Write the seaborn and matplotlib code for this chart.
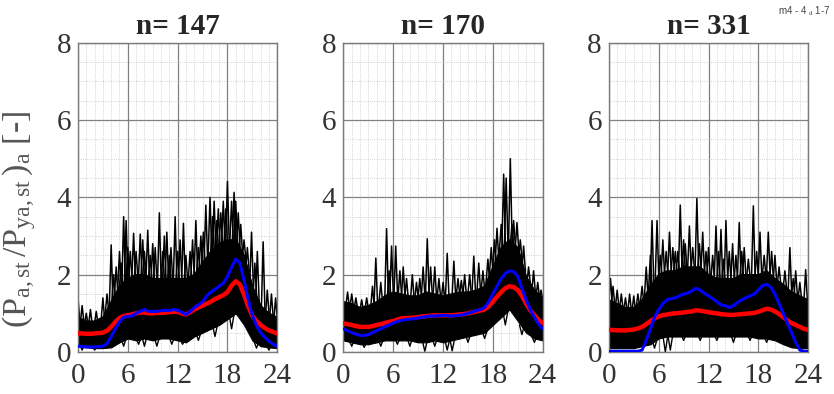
import numpy as np
import pandas as pd
import seaborn as sns
import matplotlib.pyplot as plt
from matplotlib.ticker import MultipleLocator

# hourly grid for the envelope of the daily profiles, half-hourly for the mean curves
hours = list(range(25))
half_hours = [h / 2 for h in range(49)]

titles = ["n= 147", "n= 170", "n= 331"]

# dense band of the black daily profiles (lower / upper edge, hourly)
band_low = [
    [0.15, 0.12, 0.1, 0.1, 0.12, 0.25, 0.35, 0.3, 0.35, 0.3, 0.35, 0.35, 0.3,
     0.25, 0.4, 0.5, 0.6, 0.7, 0.85, 1.0, 0.7, 0.3, 0.15, 0.12, 0.1],
    [0.3, 0.25, 0.2, 0.2, 0.25, 0.3, 0.3, 0.3, 0.3, 0.25, 0.25, 0.3, 0.25,
     0.3, 0.35, 0.4, 0.45, 0.5, 0.7, 0.9, 1.1, 0.8, 0.5, 0.35, 0.3],
    [0.1, 0.1, 0.1, 0.1, 0.15, 0.2, 0.35, 0.4, 0.4, 0.4, 0.4, 0.4, 0.4,
     0.4, 0.4, 0.4, 0.4, 0.4, 0.35, 0.35, 0.3, 0.2, 0.12, 0.1, 0.1],
]
band_high = [
    [0.9, 0.8, 0.8, 0.9, 1.3, 1.7, 1.9, 2.0, 2.0, 1.9, 1.9, 1.9, 1.9,
     1.9, 2.0, 2.3, 2.6, 2.8, 2.9, 2.9, 2.5, 1.7, 1.2, 1.0, 0.9],
    [1.3, 1.25, 1.15, 1.2, 1.3, 1.45, 1.55, 1.5, 1.45, 1.45, 1.55, 1.5, 1.45,
     1.5, 1.55, 1.55, 1.6, 1.7, 2.2, 2.7, 2.9, 2.7, 1.95, 1.6, 1.4],
    [1.35, 1.25, 1.15, 1.15, 1.35, 1.7, 2.0, 2.1, 2.1, 2.2, 2.2, 2.2, 2.0,
     1.9, 1.9, 1.9, 2.0, 2.0, 2.0, 2.1, 1.9, 1.75, 1.55, 1.45, 1.35],
]

# single profiles sticking out of the band: (hour, peak value)
spike_hour = [
    [0.0, 0.5, 1.0, 1.5, 2.2, 3.0, 3.5, 4.0, 4.3, 4.6, 5.0, 5.2, 5.5, 5.8, 6.0,
     6.3, 6.7, 7.0, 7.5, 7.8, 8.0, 8.4, 8.7, 9.0, 9.3, 9.8, 10.2, 10.4, 10.7,
     11.0, 11.2, 11.7, 12.0, 12.3, 12.7, 13.0, 13.5, 13.8, 14.2, 14.5, 14.8,
     15.1, 15.4, 15.9, 16.2, 16.4, 16.7, 16.9, 17.2, 17.5, 17.8, 18.0, 18.5,
     18.8, 19.0, 19.3, 19.6, 20.0, 20.4, 20.9, 21.3, 21.6, 22.3, 22.8, 23.3, 23.8],
    [0.5, 1.0, 1.5, 2.2, 2.8, 3.5, 3.9, 4.5, 5.2, 5.5, 5.8, 6.3, 6.8, 7.2, 7.6,
     8.3, 8.8, 9.2, 9.6, 10.1, 10.5, 11.0, 11.5, 12.0, 12.5, 13.3, 13.8, 14.2,
     14.6, 15.2, 15.7, 16.3, 16.8, 17.4, 17.8, 18.2, 18.5, 19.0, 19.3, 19.6,
     20.1, 20.3, 20.5, 20.9, 21.3, 21.7, 22.3, 22.9, 23.4, 23.8],
    [0.2, 0.5, 1.0, 1.5, 2.0, 2.5, 3.0, 3.5, 4.0, 4.5, 5.0, 5.2, 5.8, 6.2, 6.5,
     6.9, 7.3, 7.7, 8.0, 8.3, 8.6, 9.0, 9.2, 9.7, 10.1, 10.6, 10.9, 11.3, 11.7,
     12.0, 12.5, 12.9, 13.2, 13.5, 13.8, 14.1, 14.5, 14.9, 15.3, 15.7, 16.0,
     16.3, 16.8, 17.4, 17.8, 18.2, 18.7, 19.2, 19.6, 20.0, 20.5, 21.2, 21.8,
     22.2, 22.5, 23.0, 23.7],
]
spike_peak = [
    [1.4, 1.2, 1.0, 1.1, 1.05, 1.4, 1.5, 2.77, 2.0, 2.2, 2.6, 2.3, 3.5, 3.4, 2.7,
     2.6, 3.07, 2.6, 3.05, 2.9, 2.6, 3.15, 2.5, 2.8, 2.7, 3.6, 2.6, 3.0, 3.1,
     2.5, 2.7, 3.5, 2.6, 2.9, 3.33, 2.5, 2.6, 2.9, 3.4, 2.7, 3.0,
     3.1, 3.8, 4.0, 3.5, 3.9, 3.4, 3.7, 3.6, 3.9, 3.7, 4.41, 3.9,
     4.13, 3.9, 3.6, 3.3, 2.9, 2.7, 3.1, 2.3, 2.6, 2.85, 1.6, 1.5, 1.4],
    [1.55, 1.5, 1.4, 1.35, 1.4, 1.7, 2.43, 1.8, 3.19, 2.1, 2.74, 2.74, 2.1, 2.2, 1.9,
     2.0, 1.8, 1.9, 2.2, 2.93, 2.2, 2.2, 1.9, 1.8, 2.55, 2.35, 1.9, 1.85,
     2.0, 2.0, 2.48, 2.3, 2.1, 2.4, 2.7, 2.9, 3.2, 3.3, 4.6, 4.5,
     5.0, 3.3, 3.4, 3.35, 2.9, 2.74, 2.2, 2.1, 1.8, 1.6],
    [1.9, 1.7, 1.6, 1.5, 1.4, 1.5, 1.45, 1.5, 1.7, 2.2, 2.5, 3.4, 3.4, 2.5, 2.9,
     2.6, 3.1, 2.7, 2.6, 2.6, 3.8, 2.9, 2.8, 3.26, 2.7, 3.97, 2.8, 3.1, 2.6,
     2.7, 2.5, 3.26, 2.6, 3.17, 2.4, 3.4, 2.6, 2.8, 2.5, 3.35, 2.6,
     2.7, 2.4, 3.78, 2.6, 3.1, 2.5, 3.1, 2.6, 2.5, 2.2, 2.1, 2.7,
     1.9, 2.1, 1.8, 2.13],
]
# profiles dropping below the band: (hour, lowest value)
dip_hour = [
    [0.5, 2.0, 5.5, 7.3, 8.0, 9.5, 11.3, 12.6, 14.5, 16.5, 18.5, 21.5, 23.0],
    [1.0, 2.5, 4.5, 6.5, 8.0, 9.8, 11.0, 12.5, 13.1, 15.0, 17.0, 19.5, 21.5, 23.0],
    [5.5, 6.8, 7.4, 9.0, 11.0, 13.0, 15.0, 17.0, 19.0],
]
dip_low = [
    [0.05, 0.05, 0.15, 0.2, 0.15, 0.15, 0.2, 0.2, 0.3, 0.4, 0.6, 0.1, 0.05],
    [0.15, 0.12, 0.15, 0.2, 0.15, 0.02, 0.15, 0.05, 0.03, 0.25, 0.35, 0.7, 0.45, 0.25],
    [0.1, 0.0, 0.05, 0.3, 0.3, 0.3, 0.25, 0.3, 0.25],
]

# red: mean profile, blue: reference profile (half-hourly)
red = [
    [0.48, 0.48, 0.47, 0.47, 0.48, 0.49, 0.5, 0.55, 0.65, 0.78, 0.88, 0.93, 0.95,
     0.97, 1.0, 1.02, 1.02, 1.0, 1.0, 1.01, 1.01, 1.02, 1.03, 1.04, 1.04, 1.0,
     0.97, 1.03, 1.1, 1.15, 1.2, 1.25, 1.3, 1.37, 1.42, 1.47, 1.55, 1.72, 1.83,
     1.75, 1.48, 1.18, 0.93, 0.8, 0.7, 0.62, 0.56, 0.52, 0.48],
    [0.74, 0.72, 0.7, 0.67, 0.65, 0.65, 0.65, 0.67, 0.7, 0.72, 0.75, 0.78, 0.8,
     0.84, 0.87, 0.88, 0.88, 0.89, 0.9, 0.92, 0.93, 0.94, 0.95, 0.95, 0.95, 0.95,
     0.95, 0.96, 0.97, 0.98, 1.0, 1.02, 1.05, 1.07, 1.1, 1.18, 1.3, 1.43, 1.55,
     1.65, 1.7, 1.68, 1.6, 1.45, 1.25, 1.08, 0.95, 0.83, 0.75],
    [0.57, 0.57, 0.56, 0.56, 0.56, 0.57, 0.58, 0.61, 0.65, 0.72, 0.8, 0.87, 0.92,
     0.95, 0.97, 0.99, 1.0, 1.01, 1.02, 1.04, 1.05, 1.08, 1.07, 1.05, 1.03, 1.01,
     1.0, 0.98, 0.97, 0.96, 0.96, 0.97, 0.98, 0.99, 1.0, 1.01, 1.04, 1.08, 1.12,
     1.1, 1.05, 0.98, 0.9, 0.82, 0.75, 0.7, 0.65, 0.6, 0.57],
]
blue = [
    [0.15, 0.14, 0.13, 0.13, 0.13, 0.14, 0.15, 0.22, 0.4, 0.6, 0.78, 0.9, 0.92,
     0.93, 1.0, 1.05, 1.1, 1.05, 1.05, 1.05, 1.07, 1.08, 1.07, 1.1, 1.08, 1.03,
     0.97, 1.05, 1.15, 1.22, 1.3, 1.45, 1.55, 1.62, 1.7, 1.78, 1.95, 2.2, 2.4,
     2.3, 1.85, 1.35, 0.95, 0.68, 0.5, 0.38, 0.28, 0.2, 0.15],
    [0.6, 0.55, 0.5, 0.46, 0.43, 0.43, 0.45, 0.5, 0.55, 0.6, 0.65, 0.7, 0.75,
     0.79, 0.82, 0.84, 0.85, 0.86, 0.88, 0.9, 0.92, 0.93, 0.93, 0.94, 0.95, 0.94,
     0.93, 0.94, 0.95, 0.97, 1.0, 1.03, 1.07, 1.1, 1.15, 1.3, 1.5, 1.7, 1.9,
     2.03, 2.1, 2.08, 1.95, 1.65, 1.35, 1.1, 0.9, 0.72, 0.6],
    [0.02, 0.02, 0.02, 0.02, 0.02, 0.02, 0.02, 0.02, 0.05, 0.3, 0.6, 0.9, 1.1,
     1.25, 1.35, 1.38, 1.4, 1.45, 1.5, 1.52, 1.58, 1.65, 1.6, 1.52, 1.45, 1.38,
     1.3, 1.22, 1.2, 1.15, 1.2, 1.28, 1.35, 1.4, 1.45, 1.5, 1.6, 1.72, 1.75,
     1.68, 1.5, 1.25, 1.0, 0.75, 0.5, 0.25, 0.05, 0.02, 0.02],
]

sns.set_style("white")
plt.rcParams['font.family'] = ['Liberation Serif', 'DejaVu Serif']
plt.rcParams['mathtext.fontset'] = 'custom'
plt.rcParams['mathtext.rm'] = 'Liberation Serif'
plt.rcParams['mathtext.it'] = 'Liberation Serif:italic'

fig, axes = plt.subplots(1, 3, figsize=(8.34, 3.94), dpi=100)
fig.subplots_adjust(left=0.0935, right=0.969, bottom=0.1066, top=0.8916, wspace=0.332)

for i, ax in enumerate(axes):
    ax.fill_between(hours, band_low[i], band_high[i], color='black', lw=0.8, zorder=2)
    ax.plot(hours, band_high[i], color='black', lw=1.0, zorder=2)
    for h, p in zip(spike_hour[i], spike_peak[i]):
        base = np.interp(h, hours, band_high[i])
        ax.plot([h - 0.22, h, h + 0.22], [base - 0.1, p, base - 0.1], color='black', lw=1.1, zorder=2)
    for h, p in zip(dip_hour[i], dip_low[i]):
        base = np.interp(h, hours, band_low[i])
        ax.plot([h - 0.3, h, h + 0.3], [base + 0.05, p, base + 0.05], color='black', lw=1.0, zorder=2)

    sns.lineplot(x=half_hours, y=red[i], ax=ax, color='#ff0000', lw=3.2, zorder=3)
    sns.lineplot(x=half_hours, y=blue[i], ax=ax, color='#0000ff', lw=2.2, zorder=4)

    ax.set_xlim(0, 24)
    ax.set_ylim(0, 8)
    ax.xaxis.set_major_locator(MultipleLocator(6))
    ax.yaxis.set_major_locator(MultipleLocator(2))
    ax.xaxis.set_minor_locator(MultipleLocator(1))
    ax.yaxis.set_minor_locator(MultipleLocator(0.5))
    ax.grid(which='major', color='#808080', lw=0.9, ls='-', zorder=1)
    ax.grid(which='minor', color='#c4c4c4', lw=0.6, ls=':', zorder=1)
    ax.set_axisbelow(True)
    ax.tick_params(which='both', length=0, labelsize=21, labelcolor='#333333')
    ax.tick_params(axis='x', pad=8)
    ax.tick_params(axis='y', pad=5)
    for s in ax.spines.values():
        s.set_color('#7a7a7a')
        s.set_linewidth(1.0)
    ax.set_title(titles[i], fontsize=21, fontweight='bold', pad=6)

axes[0].set_ylabel(r'$(\mathrm{P}_{\mathrm{a,st}}\,/\mathrm{P}_{\mathrm{ya,st}}\,)_{\mathrm{a}}$ [-]',
                   fontsize=24.5, color='#555555')
axes[0].yaxis.set_label_coords(-0.2, 0.43)

fig.text(0.933, 0.962, r'm4 - 4 $_{\mathrm{d}}$ 1-7', fontsize=7, color='#444444',
         family=['Liberation Sans', 'DejaVu Sans'])

plt.savefig("out.png", dpi=100)
